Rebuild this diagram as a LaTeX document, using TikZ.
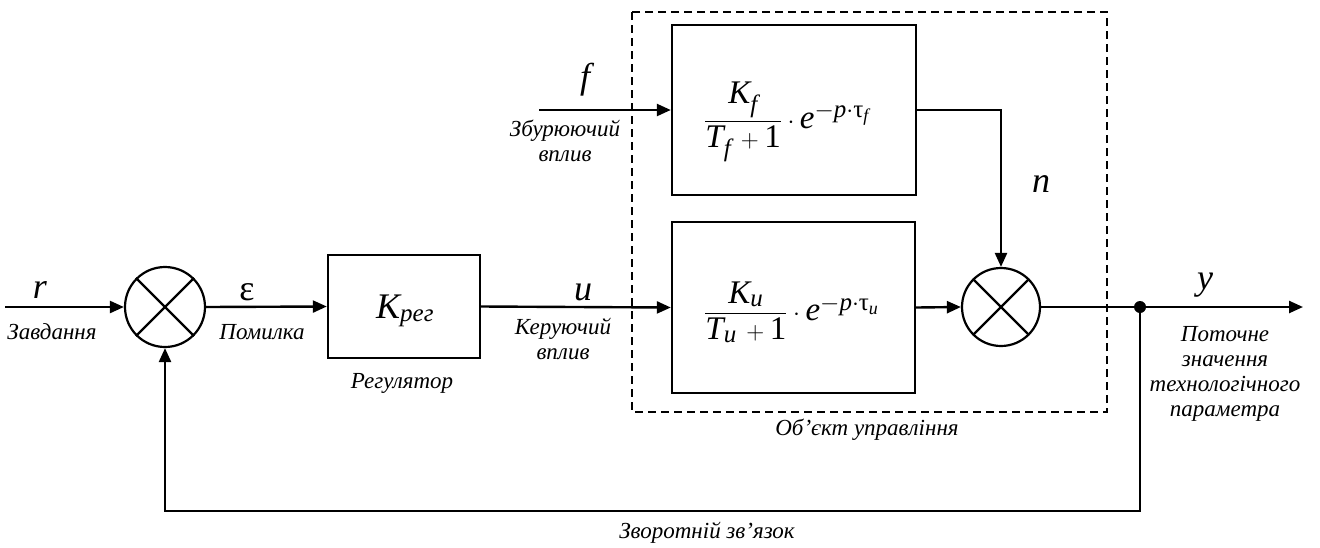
\documentclass[tikz,border=0pt]{standalone}
\usepackage{amsmath}
\usepackage{fontspec}
\setmainfont{Liberation Serif}
\usetikzlibrary{arrows.meta,calc}
\DeclareMathSizes{33}{33}{25}{18}
\DeclareMathSizes{36}{36}{25}{18}
\newcommand{\vi}[1]{\text{\itshape #1}}
\tikzset{
  line/.style={line width=2.4pt},
  arr/.style={line, -{Triangle[length=14pt,width=12pt]}},
  blk/.style={draw, line width=2.4pt, rectangle, inner sep=0pt},
  summer/.style={draw, line width=2.2pt, circle, minimum size=80pt, inner sep=0pt},
  sig/.style={font=\fontsize{36}{38}\selectfont\itshape, inner sep=0pt},
  lbl/.style={font=\fontsize{23}{25}\selectfont\itshape, align=center, inner sep=0pt},
  frm/.style={font=\fontsize{33}{36}\selectfont, inner sep=0pt},
  frame/.style={draw, line width=1.6pt, dash pattern=on 8pt off 5pt}
}
\begin{document}
\begin{tikzpicture}[x=1pt, y=-1pt]
\useasboundingbox (0,0) rectangle (1320,547);

% control object frame
\draw[frame] (632,12) rectangle (1107,412);

% blocks
\node[summer] (s1) at (165,307) {};
\draw[line width=2.2pt] (s1.north west) -- (s1.south east) (s1.north east) -- (s1.south west);
\node[blk, minimum width=152pt, minimum height=103pt] (reg) at (404,306.5) {};
\node[frm, anchor=base west] (kreg) at (376,318) {\fontsize{36}{38}\selectfont $\vi{K}_{\vi{рег}}$};
\node[blk, minimum width=244pt, minimum height=170pt] (bf) at (794,110) {};
\node[frm, anchor=base west] (wf) at (704,128) {$\dfrac{\vi{K}_{\vi{f}}}{\vi{T}_{\vi{f}}\,+\text{1}}\cdot \vi{e}^{-\vi{p}\cdot\text{τ}_{\vi{f}}}$};
\node[blk, minimum width=243pt, minimum height=171pt] (bu) at (793.5,307.5) {};
\node[frm, anchor=base west] (wu) at (704,320) {$\dfrac{\vi{K}_{\vi{u}}}{\vi{T}_{\vi{u}}\,+\text{1}}\cdot \vi{e}^{-\vi{p}\cdot\text{τ}_{\vi{u}}}$};
\node[summer, minimum size=78pt] (s2) at (1001,307) {};
\draw[line width=2.2pt] (s2.north west) -- (s2.south east) (s2.north east) -- (s2.south west);
\node[circle, fill, minimum size=12pt, inner sep=0pt] (dot) at (1140,307) {};

% free ends
\coordinate (rin) at (5,307);
\coordinate (fin) at (539,110);
\coordinate (yout) at (1303,307);
\coordinate (fb) at (1140,511);

% connectors
\draw[arr] (rin) -- (s1.west);
\draw[arr] (s1.east) -- (reg.west);
\draw[arr] (reg.east) -- (bu.west);
\draw[arr] (fin) -- (bf.west);
\draw[arr] (bf.east) -| (s2.north);
\draw[arr] (bu.east) -- (s2.west);
\draw[line] (s2.east) -- (dot.center);
\draw[arr] (dot.center) -- (yout);
\draw[arr] (dot.center) -- (fb) -| (s1.south);

% signal names
\node[sig] (lr) at (40,290) {r};
\node[sig, font=\fontsize{36}{38}\selectfont] (le) at (247,292) {ε};
\node[sig] (lu) at (583,292) {u};
\node[sig] (lf) at (585,80) {f};
\node[sig] (ln) at (1041,184) {n};
\node[sig] (ly) at (1205,285) {y};

% descriptions
\node[lbl] (tr) at (52,332) {Завдання};
\node[lbl] (te) at (262,332) {Помилка};
\node[lbl] (tu) at (563,339) {Керуючий\\вплив};
\node[lbl] (tf) at (565,141) {Збурюючий\\вплив};
\node[lbl] (treg) at (402,383) {Регулятор};
\node[lbl] (tobj) at (867,430) {Об’єкт управління};
\node[lbl] (ty) at (1225,374) {Поточне\\значення\\технологічного\\параметра};
\node[lbl] (tfb) at (707,533) {Зворотній зв’язок};
\end{tikzpicture}
\end{document}
